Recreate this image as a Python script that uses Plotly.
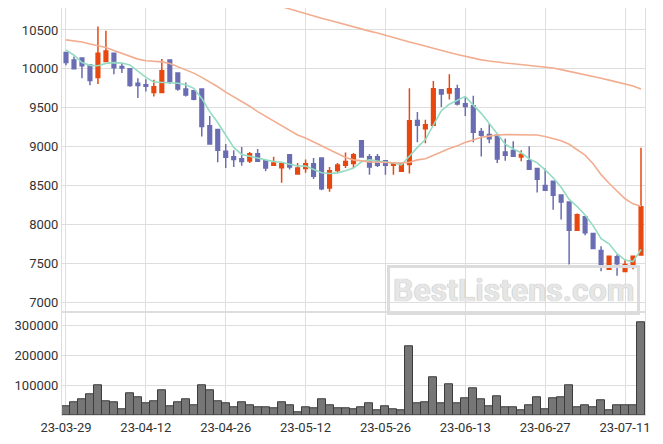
import plotly.graph_objects as go

dates = ["23-03-29","23-03-30","23-03-31","23-04-03","23-04-04","23-04-05","23-04-06","23-04-07","23-04-10","23-04-11",
         "23-04-12","23-04-13","23-04-14","23-04-17","23-04-18","23-04-19","23-04-20","23-04-21","23-04-24","23-04-25",
         "23-04-26","23-04-27","23-04-28","23-05-02","23-05-03","23-05-04","23-05-08","23-05-09","23-05-10","23-05-11",
         "23-05-12","23-05-15","23-05-16","23-05-17","23-05-18","23-05-19","23-05-22","23-05-23","23-05-24","23-05-25",
         "23-05-26","23-05-30","23-05-31","23-06-01","23-06-02","23-06-05","23-06-07","23-06-08","23-06-09","23-06-12",
         "23-06-13","23-06-14","23-06-15","23-06-16","23-06-19","23-06-20","23-06-21","23-06-22","23-06-23","23-06-26",
         "23-06-27","23-06-28","23-06-29","23-06-30","23-07-03","23-07-04","23-07-05","23-07-06","23-07-07","23-07-10",
         "23-07-11","23-07-12","23-07-13"]

open_ = [10210,10115,10140,10050,9890,10095,10200,10030,10000,9815,
         9795,9695,9695,10115,9945,9740,9720,9740,9270,9220,
         8940,8870,8845,8815,8910,8820,8760,8730,8895,8650,
         8720,8780,8855,8470,8695,8760,8785,9075,8870,8870,
         8820,8760,8685,8770,9335,9230,9275,9730,9690,9745,
         9550,9525,9195,9155,9145,8930,8950,8868,8820,8720,
         8500,8555,8380,8290,7927,8100,7885,7665,7423,7585,
         7395,7480,7607]
high = [10215,10160,10150,10055,10545,10490,10205,10075,10005,9880,
        9865,9860,10125,10120,9950,9825,9725,9745,9395,9225,
        9035,8955,8995,8930,8970,8825,8870,8785,8900,8790,
        8835,8855,8860,8740,8790,8925,8920,9080,8905,8905,
        8825,8790,8785,9750,9445,9345,9845,9735,9930,9795,
        9645,9655,9240,9290,9150,9100,9070,8955,9005,8725,
        8720,8560,8385,8295,8140,8105,7890,7720,7600,7615,
        7550,7595,8985]
low = [10045,9995,9880,9790,9805,10090,9930,9945,9770,9625,
       9710,9645,9690,9805,9720,9645,9595,9130,9030,8800,
       8725,8740,8755,8790,8810,8685,8755,8535,8705,8645,
       8665,8585,8440,8420,8665,8725,8725,8865,8640,8740,
       8640,8640,8680,8655,9055,9045,9270,9510,9605,9530,
       9395,9055,8875,9045,8790,8820,8875,8812,8700,8410,
       8435,8190,8065,7485,7925,7860,7680,7400,7420,7340,
       7390,7425,7600]
close = [10081,10000,10040,9850,10200,10230,10015,10010,9785,9785,
         9775,9770,9975,9840,9740,9665,9610,9260,9035,8955,
         8865,8835,8810,8910,8812,8725,8790,8780,8740,8727,
         8780,8620,8460,8690,8765,8810,8895,8868,8740,8760,
         8760,8785,8780,9333,9275,9282,9745,9676,9745,9547,
         9517,9185,9145,9100,8842,8890,8876,8898,8710,8580,
         8440,8375,8290,7925,8125,7895,7692,7453,7590,7495,
         7487,7590,8227]
volume = [29000,42000,52000,69000,99000,46000,42000,19000,72000,59000,
          39000,46000,82000,29000,42000,52000,32000,99000,82000,46000,
          39000,26000,42000,32000,26000,26000,22000,42000,32000,9000,
          26000,22000,52000,32000,22000,22000,20000,26000,39000,16000,
          29000,19000,16000,229000,39000,42000,126000,39000,102000,39000,
          56000,89000,52000,29000,62000,26000,26000,16000,32000,59000,
          19000,56000,59000,99000,26000,32000,26000,49000,16000,32000,
          32000,32000,309000]
ma_short = [10244,10175,10080,10045,10040,10070,10080,10075,10050,9965,
            9890,9830,9825,9825,9815,9795,9750,9620,9450,9310,
            9150,8990,8900,8875,8855,8830,8810,8800,8775,8752,
            8750,8710,8665,8655,8663,8690,8724,8806,8830,8815,
            8805,8790,8765,8884,8990,9091,9283,9462,9545,9599,
            9646,9534,9428,9299,9158,9032,8971,8921,8843,8791,
            8701,8601,8479,8322,8231,8122,7985,7818,7751,7625,
            7543,7523,7678]
ma_mid = [10372,10360,10345,10320,10300,10275,10235,10195,10155,10125,
          10105,10100,10090,10070,10030,9990,9945,9890,9835,9770,
          9700,9640,9590,9520,9450,9390,9330,9270,9200,9150,
          9110,9060,9005,8950,8900,8860,8830,8815,8805,8800,
          8795,8790,8790,8800,8830,8845,8890,8925,8975,9010,
          9055,9085,9120,9135,9150,9155,9155,9155,9155,9150,
          9130,9100,9075,9030,8965,8890,8780,8640,8530,8430,
          8330,8265,8235]
ma_long_start = 26
ma_long = [10830,10800,10760,10735,10705,10680,10650,10625,10595,10570,
           10540,10515,10485,10460,10430,10400,10375,10345,10320,10290,
           10265,10235,10210,10185,10160,10140,10115,10100,10085,10075,
           10065,10055,10045,10035,10025,10010,9990,9970,9950,9925,
           9905,9880,9855,9830,9805,9780,9740,9700,9670]

tick_labels = ["23-03-29","23-04-12","23-04-26","23-05-12","23-05-26","23-06-13","23-06-27","23-07-11"]
price_ticks = [7000,7500,8000,8500,9000,9500,10000,10500]
volume_ticks = [100000,200000,300000]

UP = "#e8470f"
DOWN = "#6a6db3"
GRID = "#dedede"
FONT = dict(family="Roboto", size=13, color="#333333")

fig = go.Figure()
fig.add_trace(go.Candlestick(
    x=dates, open=open_, high=high, low=low, close=close,
    increasing=dict(line=dict(color=UP, width=1.5), fillcolor=UP),
    decreasing=dict(line=dict(color=DOWN, width=1.5), fillcolor=DOWN),
    whiskerwidth=0, xaxis="x", yaxis="y", hoverinfo="skip"))
fig.add_trace(go.Scatter(x=dates, y=ma_short, mode="lines",
                         line=dict(color="#93dbc2", width=1.6), xaxis="x", yaxis="y"))
fig.add_trace(go.Scatter(x=dates, y=ma_mid, mode="lines",
                         line=dict(color="#f2ad90", width=1.6), xaxis="x", yaxis="y"))
fig.add_trace(go.Scatter(x=dates[ma_long_start:], y=ma_long, mode="lines",
                         line=dict(color="#f2ad90", width=1.6), xaxis="x", yaxis="y"))
fig.add_trace(go.Bar(x=dates, y=volume, marker=dict(color="#767676", line=dict(color="#3c3c3c", width=1)),
                     xaxis="x2", yaxis="y2"))

axis_common = dict(showgrid=True, gridcolor=GRID, gridwidth=1, zeroline=False,
                   showline=True, linecolor=GRID, linewidth=1, mirror=True,
                   ticks="", tickfont=FONT, automargin=False)

fig.update_layout(
    width=663, height=444,
    margin=dict(l=54, r=26, t=0, b=37),
    paper_bgcolor="white", plot_bgcolor="white",
    showlegend=False, bargap=0, boxgap=0.35,
    font=FONT,
    xaxis=dict(type="category", categoryorder="array", categoryarray=dates,
               range=[-0.5, 72.5], anchor="y", rangeslider=dict(visible=False),
               tickvals=tick_labels, ticktext=tick_labels, showticklabels=False, **axis_common),
    yaxis=dict(domain=[0.255, 1], range=[6885, 10782], tickvals=price_ticks,
               ticktext=[str(v) for v in price_ticks], **axis_common),
    xaxis2=dict(type="category", categoryorder="array", categoryarray=dates,
                range=[-0.5, 72.5], anchor="y2", matches="x",
                tickvals=tick_labels, ticktext=tick_labels, **axis_common),
    yaxis2=dict(domain=[0, 0.25], range=[0, 340000], tickvals=volume_ticks,
                ticktext=[str(v) for v in volume_ticks], **axis_common),
)

fig.add_annotation(
    text="<b>BestListens.com</b>", xref="paper", yref="paper",
    x=0.7736, y=0.307, xanchor="center", yanchor="middle", showarrow=False,
    font=dict(family="Roboto", size=32, color="#e6e6e6", shadow="0px 0px 1px #9a9a9a"),
    bordercolor="#dcdcdc", borderwidth=3, borderpad=3, bgcolor="rgba(255,255,255,0)")

fig.write_html("out.html")
